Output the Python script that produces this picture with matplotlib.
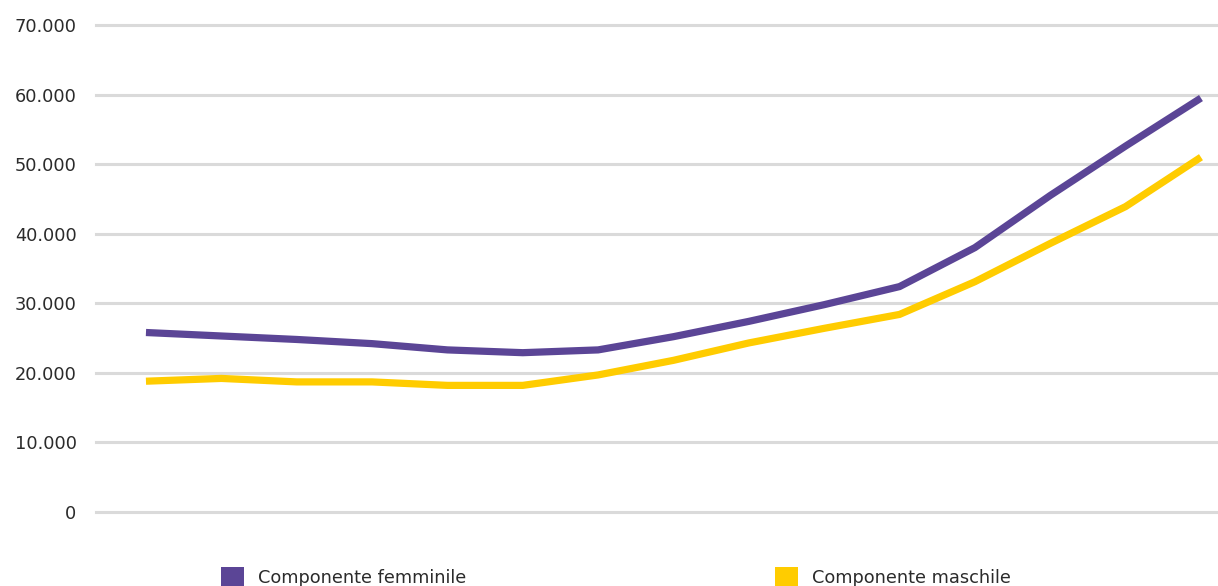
import matplotlib
matplotlib.use("Agg")
import matplotlib.pyplot as plt
from matplotlib.patches import Rectangle
from matplotlib.ticker import FuncFormatter

# Series values (15 periods)
periods = list(range(15))
femminile = [25800, 25300, 24800, 24200, 23300, 22900, 23300, 25200, 27400,
             29800, 32400, 38000, 45500, 52600, 59500]
maschile = [18800, 19200, 18700, 18700, 18200, 18200, 19700, 21800, 24300,
            26400, 28400, 33100, 38600, 43900, 51000]
labels = ["Componente femminile", "Componente maschile"]
colors = ["#5B4596", "#FFCC00"]
yticks = [0, 10000, 20000, 30000, 40000, 50000, 60000, 70000]

plt.rcParams["font.family"] = ["DejaVu Sans"]
W, H = 1218, 586
fig = plt.figure(figsize=(W / 100, H / 100), dpi=100)
ax = fig.add_axes([96 / W, (H - 512) / H, (W - 96) / W, (512 - 25) / H])

for vals, c in zip([femminile, maschile], colors):
    ax.plot(periods, vals, color=c, lw=5.2, solid_joinstyle="miter",
            solid_capstyle="butt", zorder=3)

ax.set_xlim(-0.663, 14.226)
ax.set_ylim(0, 70000)
ax.set_yticks(yticks)
ax.yaxis.set_major_formatter(FuncFormatter(lambda v, p: f"{int(v):,}".replace(",", ".")))
ax.set_xticks([])
ax.tick_params(axis="y", length=0, pad=14, labelsize=12.8, labelcolor="#2b2b2b")
ax.grid(axis="y", color="#dadada", lw=2.2, zorder=1)
for gl in ax.get_ygridlines():
    gl.set_clip_on(False)
for s in ax.spines.values():
    s.set_visible(False)

# Legend drawn below the plot area
for x0, lab, c in [(221, labels[0], colors[0]), (775, labels[1], colors[1])]:
    fig.patches.append(Rectangle((x0 / W, 0), 23 / W, 19 / H, transform=fig.transFigure,
                                 facecolor=c, edgecolor="none"))
    fig.text((x0 + 37) / W, (H - 578) / H, lab, fontsize=12.8, color="#2b2b2b",
             va="center", ha="left")

fig.savefig("out.png", dpi=100)
